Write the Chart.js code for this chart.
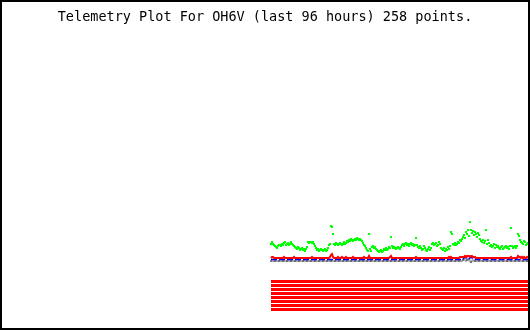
<!DOCTYPE html>
<html>
<head>
<meta charset="utf-8">
<script src="https://cdn.jsdelivr.net/npm/chart.js"></script>
<style>html,body{margin:0;padding:0;background:#fff}canvas{display:block}</style>
</head>
<body>
<canvas id="telemetry" width="530" height="330"></canvas>
<script>
// one sample per slot, 258 points (last 96 hours)
const greenTrace=[86,88,86,85,84,83,82,84,85,85, 84,86,85,87,88,85,86,87,85,86,
  88,86,85,84,83,82,81,83,82,80, 81,82,80,81,79,81,83,88,87,88,
  88,87,88,86,84,82,80,81,79,80, 81,80,79,80,81,79,80,82,85,86,
  104,103,96,86,85,87,86,85,86,87, 86,85,86,88,86,87,89,88,90,89,
  91,90,89,90,91,90,92,91,90,91, 90,89,87,85,84,82,80,79,96,81,
  79,83,84,82,83,81,80,79,78,79, 80,78,79,81,80,82,80,81,83,82,
  93,84,82,83,82,81,82,83,82,81, 83,85,86,84,86,87,85,86,84,86,
  87,85,86,84,85,92,85,83,82,84, 82,80,81,84,82,80,79,81,83,80,
  82,86,87,85,86,87,84,85,88,86, 82,81,80,82,79,81,80,83,81,84,
  98,96,86,85,87,85,86,88,87,90, 89,91,93,95,92,98,96,100,94,108,
  100,97,99,95,98,96,93,97,95,91, 89,88,90,87,89,100,86,90,87,84,
  85,83,84,86,82,85,83,84,82,81, 83,84,81,82,83,84,82,83,81,84,
  102,84,82,83,84,82,84,96,94,90, 88,87,86,89,88,85,86,87];
const redTrace=[72,73,73,72,72,72,72,72,72,72, 72,72,72,73,72,72,72,72,72,72,
  72,72,72,73,72,72,72,72,72,72, 72,72,72,72,72,72,72,72,72,72,
  72,73,72,72,72,72,72,72,72,72, 72,72,72,72,72,72,72,72,72,73,
  75,76,73,72,72,72,72,73,72,72, 72,73,72,72,72,73,72,72,72,72,
  72,72,73,72,72,72,72,72,72,72, 72,72,72,73,72,72,72,72,74,72,
  72,72,72,72,72,72,72,72,72,72, 72,72,72,72,72,72,72,72,72,73,
  74,72,72,72,72,72,72,72,72,72, 72,72,72,72,72,72,72,72,72,72,
  72,72,72,72,72,73,72,72,72,72, 72,72,72,72,72,72,72,72,72,72,
  72,72,72,72,72,72,72,72,72,72, 72,72,72,72,72,72,72,72,73,72,
  73,72,72,72,72,72,72,72,72,73, 73,73,73,73,74,73,74,74,74,73,
  74,74,73,73,73,72,72,72,72,72, 72,72,72,72,72,72,72,72,72,72,
  72,72,72,72,72,72,72,72,72,72, 72,72,72,72,72,72,72,72,72,72,
  73,72,72,72,72,72,72,74,73,73, 72,73,72,73,72,72,73,72];
const blueTrace=[70.5,70.5,70.5,70.5,70.5,70.5,70.5,70.5,70.5,70.5, 70.5,70.5,70.5,70.5,70.5,70.5,70.5,70.5,70.5,70.5,
  70.5,70.5,70.5,70.5,70.5,70.5,70.5,70.5,70.5,70.5, 70.5,70.5,70.5,70.5,70.5,70.5,70.5,70.5,70.5,70.5,
  70.5,70.5,70.5,70.5,70.5,70.5,70.5,70.5,70.5,70.5, 70.5,70.5,70.5,70.5,70.5,70.5,70.5,70.5,70.5,70.5,
  70.5,70.5,70.5,70.5,70.5,70.5,70.5,70.5,70.5,70.5, 70.5,70.5,70.5,70.5,70.5,70.5,70.5,70.5,70.5,70.5,
  70.5,70.5,70.5,70.5,70.5,70.5,70.5,70.5,70.5,70.5, 70.5,70.5,70.5,70.5,70.5,70.5,70.5,70.5,70.5,70.5,
  70.5,70.5,70.5,70.5,70.5,70.5,70.5,70.5,70.5,70.5, 70.5,70.5,70.5,70.5,70.5,70.5,70.5,70.5,70.5,70.5,
  70.5,70.5,70.5,70.5,70.5,70.5,70.5,70.5,70.5,70.5, 70.5,70.5,70.5,70.5,70.5,70.5,70.5,70.5,70.5,70.5,
  70.5,70.5,70.5,70.5,70.5,70.5,70.5,70.5,70.5,70.5, 70.5,70.5,70.5,70.5,70.5,70.5,70.5,70.5,70.5,70.5,
  70.5,70.5,70.5,70.5,70.5,70.5,70.5,70.5,70.5,70.5, 70.5,70.5,70.5,70.5,70.5,70.5,70.5,70.5,70.5,70.5,
  70.5,70.5,70.5,70.5,70.5,70.5,70.5,70.5,70.5,70.5, 70.5,70.5,71,72,73,72,73,72,71,72,
  73,72,72,71,71,70.5,70.5,70.5,70.5,70.5, 70.5,70.5,70.5,70.5,70.5,70.5,70.5,70.5,70.5,70.5,
  70.5,70.5,70.5,70.5,70.5,70.5,70.5,70.5,70.5,70.5, 70.5,70.5,70.5,70.5,70.5,70.5,70.5,70.5,70.5,70.5,
  70.5,70.5,70.5,70.5,70.5,70.5,70.5,70.5,70.5,70.5, 70.5,70.5,70.5,70.5,70.5,70.5,70.5,70.5];
const grayTrace=[69,69,69,69,69,69,69,69,69,69, 69,69,69,69,69,69,69,69,69,69,
  69,69,69,69,69,69,69,69,69,69, 69,69,69,69,69,69,69,69,69,69,
  69,69,69,69,69,69,69,69,69,69, 69,69,69,69,69,69,69,69,69,69,
  69,69,69,69,69,69,69,69,69,69, 69,69,69,69,69,69,69,69,69,69,
  69,69,69,69,69,69,69,69,69,69, 69,69,69,69,69,69,69,69,69,69,
  69,69,69,69,69,69,69,69,69,69, 69,69,69,69,69,69,69,69,69,69,
  69,69,69,69,69,69,69,69,69,69, 69,69,69,69,69,69,69,69,69,69,
  69,69,69,69,69,69,69,69,69,69, 69,69,69,69,69,69,69,69,69,69,
  69,69,69,69,69,69,69,69,69,69, 69,69,69,69,69,69,69,69,69,69,
  69,69,69,69,69,69,69,69,69,69, 69,69,70,71,70,69,70,71,70,69,
  68,69,70,69,69,69,69,69,69,69, 69,69,69,69,69,69,69,69,69,69,
  69,69,69,69,69,69,69,69,69,69, 69,69,69,69,69,69,69,69,69,69,
  69,69,69,69,69,69,69,69,69,69, 69,69,69,69,69,69,69,69];
// status lanes under the plot (all on)
const laneLevels=[48.5,44.5,40.5,36.5,32.5,28.5,24.5,20.5];
const laneSpan=[0,258];
const titleText='Telemetry Plot For OH6V (last 96 hours) 258 points.';

const pts=a=>a.map((v,i)=>({x:i,y:v}));
const lanes=laneLevels.map(l=>({data:laneSpan.map(x=>({x,y:l})),borderColor:'#ff0000',borderWidth:3,pointRadius:0,borderCapStyle:'butt'}));

const frame={id:'frame',afterDraw(c){const g=c.ctx;g.save();g.strokeStyle='#000';g.lineWidth=2;g.strokeRect(1,1,528,328);g.restore();}};

new Chart(document.getElementById('telemetry'),{
  type:'line',
  data:{datasets:[
    {data:pts(greenTrace),showLine:false,pointStyle:'rect',pointRadius:1.5,pointBorderWidth:0,pointBackgroundColor:'#00ff00'},
    {data:pts(redTrace),borderColor:'#ff0000',borderWidth:2,pointRadius:0,tension:0},
    {data:pts(blueTrace),borderColor:'#0000ff',borderWidth:1.5,borderDash:[6,2],pointRadius:0,tension:0},
    {data:pts(grayTrace),borderColor:'#a8a8a8',borderWidth:2,tension:0,pointStyle:'rect',
      pointRadius:c=>c.dataIndex%4===0?1.2:0,pointBorderWidth:0,pointBackgroundColor:'#555'},
    ...lanes
  ]},
  options:{
    responsive:false,animation:false,
    layout:{padding:0,autoPadding:false},
    plugins:{legend:{display:false},tooltip:{enabled:false},
      title:{display:true,text:titleText,color:'#000',padding:{top:10,bottom:0},
        font:{family:'"DejaVu Sans Mono", monospace',size:13.5,weight:'normal',lineHeight:1.156}}},
    scales:{
      x:{type:'linear',min:-271,max:259,display:false},
      y:{min:0,max:304.4,display:false}
    }
  },
  plugins:[frame]
});
</script>
</body>
</html>
